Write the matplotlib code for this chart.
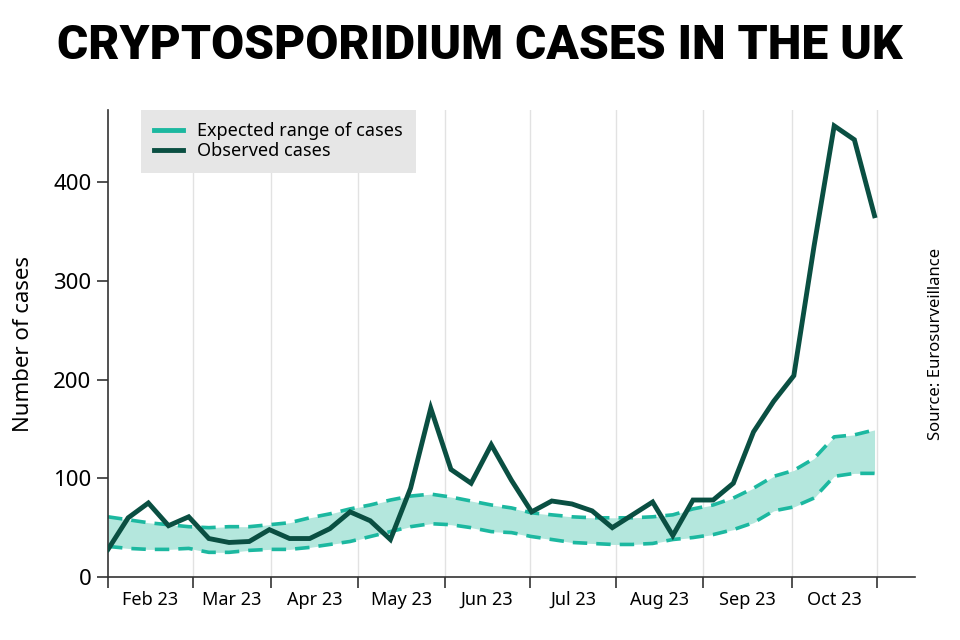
import matplotlib
matplotlib.use("Agg")
import matplotlib.pyplot as plt
from matplotlib.lines import Line2D
import numpy as np

# Weekly counts (39 weeks, Feb to Oct 2023)
observed = [28, 60, 75, 52, 61, 39, 35, 36, 48, 39, 39, 49, 66, 57, 38, 90, 171, 109,
            95, 134, 98, 66, 77, 74, 67, 50, 63, 76, 42, 78, 78, 95, 147, 178, 204, 335,
            457, 443, 366]
expected_upper = [61, 58, 55, 53, 51, 50, 51, 51, 53, 55, 60, 64, 69, 73, 78, 82, 84, 81,
                  77, 73, 70, 65, 63, 61, 60, 60, 60, 61, 63, 69, 73, 80, 90, 102, 108, 120,
                  142, 144, 149]
expected_lower = [31, 29, 28, 28, 29, 25, 25, 27, 28, 28, 30, 33, 36, 41, 46, 51, 54, 53,
                  50, 46, 45, 41, 38, 35, 34, 33, 33, 34, 38, 40, 43, 48, 55, 67, 71, 80,
                  102, 105, 105]
months = ["Feb 23", "Mar 23", "Apr 23", "May 23", "Jun 23", "Jul 23", "Aug 23", "Sep 23", "Oct 23"]

DARK = "#0a4f42"
TEAL = "#1cb8a0"
FILL = "#b4e7dd"

plt.rcParams["font.family"] = ["Noto Sans", "DejaVu Sans"]

weeks = np.arange(len(observed))
# month boundaries on the weekly axis
edges = [0, 4.2, 8.1, 12.4, 16.7, 20.9, 25.2, 29.5, 33.9, 38.1]

fig = plt.figure(figsize=(9.6, 6.4), dpi=100)
ax = fig.add_axes([0.1125, 0.0984, 0.8405, 0.7296])

ax.fill_between(weeks, expected_lower, expected_upper, color=FILL, lw=0, zorder=1)
ax.plot(weeks, expected_upper, color=TEAL, lw=2.6, ls=(0, (4, 2.5)), zorder=2)
ax.plot(weeks, expected_lower, color=TEAL, lw=2.6, ls=(0, (4, 2.5)), zorder=2)
ax.plot(weeks, observed, color=DARK, lw=3.5, zorder=3, solid_joinstyle="miter")

ax.set_xlim(0, 40)
ax.set_ylim(0, 473)

for e in edges[1:]:
    ax.axvline(e, color="#e2e2e2", lw=1, zorder=0)

ax.set_xticks(edges)
ax.set_xticklabels([])
ax.set_xticks([(a + b) / 2 for a, b in zip(edges[:-1], edges[1:])], minor=True)
ax.set_xticklabels(months, minor=True, fontsize=13, fontweight="medium")
ax.tick_params(axis="x", which="major", length=8, width=1.2, color="#333333")
ax.tick_params(axis="x", which="minor", length=0, pad=10)

ax.set_yticks([0, 100, 200, 300, 400])
ax.tick_params(axis="y", length=8, width=1.2, color="#333333", labelsize=16, pad=4)

for s in ["top", "right"]:
    ax.spines[s].set_visible(False)
for s in ["left", "bottom"]:
    ax.spines[s].set_color("#333333")
    ax.spines[s].set_linewidth(1.2)

ax.set_ylabel("Number of cases", fontsize=16, labelpad=14)

handles = [Line2D([], [], color=TEAL, lw=3.5), Line2D([], [], color=DARK, lw=3.5)]
leg = ax.legend(handles, ["Expected range of cases", "Observed cases"],
                loc="upper left", bbox_to_anchor=(0.03, 1.02), fontsize=13,
                frameon=True, fancybox=False, handlelength=1.6, labelspacing=0.1,
                borderpad=0.7)
leg.get_frame().set_facecolor("#e6e6e6")
leg.get_frame().set_edgecolor("none")
leg.get_frame().set_alpha(1)

fig.text(0.5, 0.928, "CRYPTOSPORIDIUM CASES IN THE UK", ha="center", va="center",
         fontsize=34.5, fontweight="black", family=["Roboto", "DejaVu Sans"])
fig.text(0.975, 0.463, "Source: Eurosurveillance", rotation=90, ha="center", va="center",
         fontsize=12)

fig.savefig("out.png", dpi=100)
